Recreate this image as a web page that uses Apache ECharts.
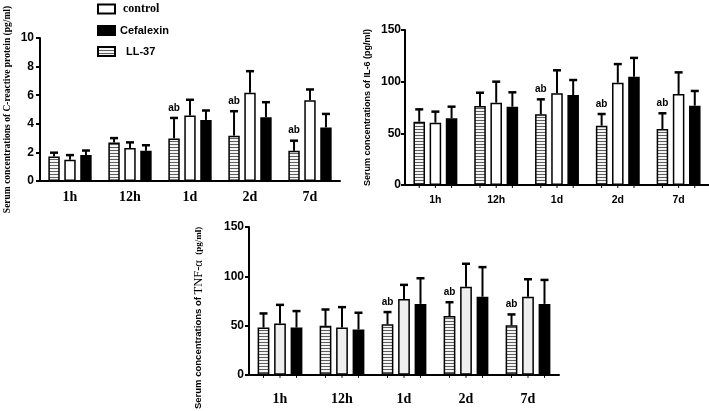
<!DOCTYPE html>
<html><head><meta charset="utf-8">
<script src="https://cdn.jsdelivr.net/npm/echarts@6/dist/echarts.min.js"></script>
<style>html,body{margin:0;padding:0;background:#fff}#c{width:709px;height:411px}</style>
</head><body><div id="c"></div>
<script>
// ---- data ----
const categories = ['1h', '12h', '1d', '2d', '7d'];
const groups = ['LL-37', 'control', 'Cefalexin'];
// C-reactive protein
const crpLL37 = [1.72, 2.7, 2.98, 3.17, 2.11];
const crpLL37Sd = [0.26, 0.3, 1.43, 1.71, 0.71];
const crpControl = [1.48, 2.3, 4.58, 6.18, 5.65];
const crpControlSd = [0.33, 0.4, 1.1, 1.5, 0.75];
const crpCef = [1.81, 2.11, 4.27, 4.46, 3.75];
const crpCefSd = [0.32, 0.39, 0.66, 1.05, 0.94];
const crpAb = [0, 0, 1, 1, 1];
const crpTicks = [0, 2, 4, 6, 8, 10];
// IL-6
const il6LL37 = [61.3, 76.5, 68.4, 57.4, 54.2];
const il6LL37Sd = [11.9, 12.8, 14.5, 11.3, 15.2];
const il6Control = [60.3, 79.7, 88.7, 99, 88];
const il6ControlSd = [10.7, 20.3, 22.3, 18, 21];
const il6Cef = [64.5, 75.8, 87, 104.8, 76.8];
const il6CefSd = [11.3, 13.9, 14.6, 18.2, 14.2];
const il6Ab = [0, 0, 1, 1, 1];
const il6Ticks = [0, 50, 100, 150];
// TNF-alpha
const tnfLL37 = [48, 49.7, 51.3, 59.7, 50.3];
const tnfLL37Sd = [14.3, 16.6, 12.4, 14, 11];
const tnfControl = [52, 48, 77, 89.3, 79.3];
const tnfControlSd = [19, 20.7, 14.3, 23.4, 17.7];
const tnfCef = [48, 46, 72, 79.3, 72];
const tnfCefSd = [16.7, 17, 26, 30, 24.3];
const tnfAb = [0, 0, 1, 1, 1];
const tnfTicks = [0, 50, 100, 150];

// ---- styles ----
function stripeCanvas() {
  const c = document.createElement('canvas');
  c.width = 4; c.height = 3;
  const g = c.getContext('2d');
  g.fillStyle = '#f4f4f4'; g.fillRect(0, 0, 4, 3);
  g.fillStyle = '#5e5e5e'; g.fillRect(0, 0, 4, 1);
  return c;
}
const stripe = { image: stripeCanvas(), repeat: 'repeat' };
const SANS = '"Liberation Sans", Arial, sans-serif';
const SERIF = '"Liberation Serif", "Times New Roman", serif';
const BAR_W = 0.19, GAP = 0.4;

const charts = [
  { grid: { left: 40, top: 38, width: 300, height: 143 },
    max: 10, ticks: crpTicks,
    vals: [[crpLL37, crpLL37Sd], [crpControl, crpControlSd], [crpCef, crpCefSd]],
    ab: crpAb, fills: [stripe, '#ffffff', '#000000'],
    name: 'Serum concentrations of C-reactive protein (pg/ml)',
    nameStyle: { fontFamily: SERIF, fontWeight: 'bold', fontSize: 9.5 }, nameGap: 27,
    xLabel: { fontFamily: SERIF, fontWeight: 'bold', fontSize: 14, margin: 9 },
    yLabel: { fontFamily: SANS, fontWeight: 'bold', fontSize: 12, margin: 6 },
    underTicks: false },
  { grid: { left: 405, top: 30, width: 312, height: 155 },
    max: 150, ticks: il6Ticks,
    vals: [[il6LL37, il6LL37Sd], [il6Control, il6ControlSd], [il6Cef, il6CefSd]],
    ab: il6Ab, fills: [stripe, '#ffffff', '#000000'],
    name: 'Serum concentrations of IL-6 (pg/ml)',
    nameStyle: { fontFamily: SANS, fontWeight: 'bold', fontSize: 9 }, nameGap: 33,
    xLabel: { fontFamily: SANS, fontWeight: 'bold', fontSize: 10.5, margin: 10 },
    yLabel: { fontFamily: SANS, fontWeight: 'bold', fontSize: 12, margin: 4 },
    underTicks: true },
  { grid: { left: 249, top: 227, width: 310, height: 150 },
    max: 150, ticks: tnfTicks,
    vals: [[tnfLL37, tnfLL37Sd], [tnfControl, tnfControlSd], [tnfCef, tnfCefSd]],
    ab: tnfAb, fills: [stripe, '#efefef', '#000000'],
    name: 'Serum concentrations of {t|TNF-α}  {u|(pg/ml)}',
    nameStyle: { fontFamily: SANS, fontWeight: 'bold', fontSize: 9.5, padding: [0, 34, 0, 0],
      rich: { t: { fontFamily: SERIF, fontSize: 12.5, fontWeight: 'normal' },
              u: { fontFamily: SERIF, fontSize: 9, fontWeight: 'bold' } } }, nameGap: 44,
    xLabel: { fontFamily: SERIF, fontWeight: 'bold', fontSize: 14, margin: 18 },
    yLabel: { fontFamily: SANS, fontWeight: 'bold', fontSize: 12, margin: 5 },
    underTicks: true }
];

function makeErr(slot, underTicks) {
  return function (params, api) {
    const i = api.value(0), m = api.value(1), s = api.value(2), ab = api.value(3);
    const band = api.size([1, 0])[0];
    const step = band * BAR_W * (1 + GAP);
    const c = api.coord([i, m]);
    const t = api.coord([i, m + s]);
    const z = api.coord([i, 0]);
    const x = c[0] + slot * step;
    const st = { stroke: '#000', lineWidth: 2 };
    const ch = [
      { type: 'line', shape: { x1: x, y1: c[1], x2: x, y2: t[1] }, style: st },
      { type: 'line', shape: { x1: x - 4, y1: t[1], x2: x + 4, y2: t[1] }, style: { stroke: '#000', lineWidth: 2.5 } }
    ];
    if (underTicks) ch.push({ type: 'line', shape: { x1: x, y1: z[1], x2: x, y2: z[1] + 3 }, style: { stroke: '#000', lineWidth: 1 } });
    if (ab) ch.push({ type: 'text', x: x, y: t[1] - 5,
      style: { text: 'ab', align: 'center', verticalAlign: 'bottom', fill: '#000',
               font: 'bold 10px ' + SANS } });
    return { type: 'group', children: ch };
  };
}

const option = {
  animation: false,
  backgroundColor: '#fff',
  legend: {
    data: ['control', 'Cefalexin', 'LL-37'],
    orient: 'vertical', left: 92, top: -2,
    itemWidth: 17, itemHeight: 9, itemGap: 10,
    icon: 'rect',
    formatter: function (n) { return n === 'control' ? '{c|control}' : (n === 'LL-37' ? '{l|LL-37}' : '{s|' + n + '}'); },
    textStyle: { color: '#000', rich: {
      c: { fontFamily: SERIF, fontWeight: 'bold', fontSize: 12, padding: [0, 0, 0, 3] },
      s: { fontFamily: SANS, fontWeight: 'bold', fontSize: 11, padding: [0, 0, 0, 0] },
      l: { fontFamily: SANS, fontWeight: 'bold', fontSize: 11, padding: [0, 0, 0, 6] } } }
  },
  grid: [], xAxis: [], yAxis: [], series: []
};

charts.forEach(function (ch, k) {
  option.grid.push(ch.grid);
  option.xAxis.push({
    type: 'category', gridIndex: k, data: categories,
    axisLine: { lineStyle: { color: '#000', width: 2 } },
    axisTick: { show: false },
    axisLabel: Object.assign({ color: '#000' }, ch.xLabel)
  });
  option.yAxis.push({
    type: 'value', gridIndex: k, min: 0, max: ch.max, interval: ch.ticks[1] - ch.ticks[0],
    name: ch.name, nameLocation: 'middle', nameGap: ch.nameGap,
    nameTextStyle: Object.assign({ color: '#000' }, ch.nameStyle),
    axisLine: { show: true, lineStyle: { color: '#000', width: 2 } },
    axisTick: { show: true, length: 4, lineStyle: { color: '#000', width: 2 } },
    splitLine: { show: false },
    axisLabel: Object.assign({ color: '#000' }, ch.yLabel)
  });
  groups.forEach(function (g, j) {
    option.series.push({
      type: 'bar', name: g, xAxisIndex: k, yAxisIndex: k,
      data: ch.vals[j][0], barWidth: (BAR_W * 100) + '%', barGap: (GAP * 100) + '%',
      itemStyle: { color: ch.fills[j], borderColor: '#000', borderWidth: 1.5 },
      silent: true
    });
  });
  groups.forEach(function (g, j) {
    const rows = categories.map(function (c, i) {
      return [i, ch.vals[j][0][i], ch.vals[j][1][i], j === 0 ? ch.ab[i] : 0];
    });
    option.series.push({
      type: 'custom', xAxisIndex: k, yAxisIndex: k, z: 5, silent: true,
      renderItem: makeErr(j - 1, ch.underTicks), data: rows,
      encode: { x: 0, y: 1 }
    });
  });
});

const chart = echarts.init(document.getElementById('c'), null, { renderer: 'canvas' });
chart.setOption(option);
</script>
</body></html>
